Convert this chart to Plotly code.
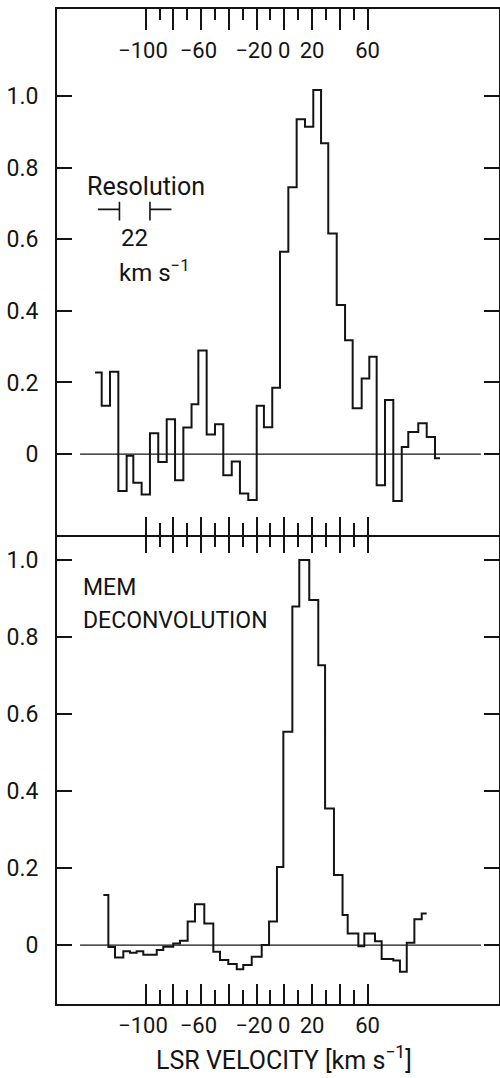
import plotly.graph_objects as go

# ---------------- data ----------------
# Upper panel: observed spectrum, channel edges [km/s] and channel values
top_edges = [-136.5, -131.7, -125.7, -119.7, -113.7, -108.9, -102.9, -96.9, -90.9,
             -84.8, -78.8, -72.8, -66.9, -62.0, -56.0, -50.0, -44.0, -37.9, -32.0,
             -26.0, -19.9, -14.7, -8.7, -3.1, 2.9, 8.9, 14.9, 20.9, 26.5, 31.7, 37.8,
             43.8, 49.3, 55.8, 61.3, 66.6, 72.6, 78.6, 84.7, 89.4, 96.6, 102.7, 108.7,
             112.3]
top_values = [0.228, 0.135, 0.230, -0.103, -0.005, -0.080, -0.113, 0.058, -0.022,
              0.097, -0.073, 0.074, 0.139, 0.289, 0.055, 0.083, -0.059, -0.021,
              -0.110, -0.128, 0.135, 0.075, 0.185, 0.565, 0.745, 0.935, 0.914, 1.017,
              0.868, 0.616, 0.416, 0.318, 0.128, 0.211, 0.272, -0.087, 0.151, -0.131,
              0.020, 0.062, 0.086, 0.048, -0.012]

# Lower panel: MEM deconvolution
bottom_edges = [-130.5, -126.9, -122.1, -116.1, -111.3, -106.5, -101.7, -96.9, -92.0,
                -87.3, -80.1, -75.2, -69.7, -64.4, -57.7, -51.2, -46.4, -40.4, -34.3,
                -29.6, -23.5, -16.3, -11.0, -5.3, -0.7, 5.8, 10.8, 18.0, 24.5, 29.4,
                35.8, 42.0, 45.7, 53.4, 57.7, 65.4, 70.2, 78.6, 83.4, 88.3, 93.8, 99.1,
                102.7]
bottom_values = [0.130, -0.005, -0.032, -0.016, -0.020, -0.016, -0.025, -0.025, -0.013,
                 -0.004, 0.004, 0.011, 0.061, 0.106, 0.056, -0.017, -0.039, -0.049,
                 -0.063, -0.052, -0.030, 0.000, 0.061, 0.203, 0.554, 0.879, 1.000,
                 0.896, 0.727, 0.355, 0.182, 0.078, 0.030, -0.003, 0.030, 0.010,
                 -0.036, -0.040, -0.069, 0.006, 0.067, 0.082]

major_ticks = [-100, -80, -60, -40, -20, 0, 20, 40, 60]
# negative labels carry a trailing no-break space so the digits sit nearer the tick
major_text = ["\u2212100\u00a0", " ", "\u221260\u00a0", " ",
              "\u221220\u00a0", "0", "20", " ", "60"]
minor_ticks = [-90, -70, -50, -30, -10, 10, 30, 50]
y_ticks = [0, 0.2, 0.4, 0.6, 0.8, 1.0]
y_text = ["0", "0.2", "0.4", "0.6", "0.8", "1.0"]

resolution_left = -118.9   # km/s
resolution_width = 22      # km/s
baseline_span = [-147.3, 141.8]

# ---------------- styling ----------------
INK = "#141414"
FONT = "Roboto, Liberation Sans, sans-serif"
W, H = 500, 1078
XR = [-163.93, 154.47]
TOP_YR = [-0.226, 1.243]
BOT_YR = [-0.153, 1.065]
XTICK_FS = 22
YTICK_FS = 23


def py(px):
    return 1 - px / H


def px_x(px):
    return px / W


fig = go.Figure()

fig.add_trace(go.Scatter(x=top_edges, y=top_values + [top_values[-1]],
                         mode="lines", line=dict(shape="hv", color=INK, width=2),
                         xaxis="x", yaxis="y", showlegend=False, hoverinfo="skip"))
fig.add_trace(go.Scatter(x=bottom_edges, y=bottom_values + [bottom_values[-1]],
                         mode="lines", line=dict(shape="hv", color=INK, width=2),
                         xaxis="x2", yaxis="y2", showlegend=False, hoverinfo="skip"))

xdom = [57 / W, 498.5 / W]
top_dom = [py(535), py(9)]
bot_dom = [py(1004), py(535)]

common_x = dict(range=XR, domain=xdom, showgrid=False, zeroline=False,
                showline=True, linecolor=INK, linewidth=2, ticks="inside",
                tickcolor=INK, tickwidth=1.6, tickmode="array", tickangle=0,
                tickvals=major_ticks, ticktext=major_text, automargin=False,
                tickfont=dict(family=FONT, size=XTICK_FS, color=INK))

fig.update_layout(
    width=W, height=H, template="none",
    margin=dict(l=0, r=0, t=0, b=0),
    paper_bgcolor="white", plot_bgcolor="white",
    font=dict(family=FONT, color=INK),
    xaxis=dict(common_x, anchor="y", side="bottom", ticklen=18,
               showticklabels=False,
               minor=dict(tickvals=minor_ticks, ticks="inside", ticklen=12,
                          tickcolor=INK, tickwidth=1.6)),
    xaxis3=dict(common_x, anchor="y", overlaying="x", side="top", ticklen=21,
                showticklabels=True, ticklabelposition="inside",
                ticklabelstandoff=14,
                minor=dict(tickvals=minor_ticks, ticks="inside", ticklen=11,
                           tickcolor=INK, tickwidth=1.6)),
    xaxis2=dict(common_x, anchor="y2", side="bottom", ticklen=20,
                showticklabels=True, ticklabelstandoff=1,
                minor=dict(tickvals=minor_ticks, ticks="inside", ticklen=14,
                           tickcolor=INK, tickwidth=1.6)),
    xaxis4=dict(common_x, anchor="y2", overlaying="x2", side="top", ticklen=18,
                showticklabels=False, showline=False,
                minor=dict(tickvals=minor_ticks, ticks="inside", ticklen=12,
                           tickcolor=INK, tickwidth=1.6)),
    yaxis=dict(range=TOP_YR, domain=top_dom, anchor="x", showgrid=False,
               zeroline=False, showline=True, mirror="ticks", linecolor=INK,
               linewidth=2, ticks="inside", ticklen=15, tickcolor=INK,
               tickwidth=1.6, tickmode="array", tickvals=y_ticks, ticktext=y_text,
               ticklabelstandoff=12, automargin=False,
               tickfont=dict(family=FONT, size=YTICK_FS, color=INK)),
    yaxis2=dict(range=BOT_YR, domain=bot_dom, anchor="x2", showgrid=False,
                zeroline=False, showline=True, mirror="ticks", linecolor=INK,
                linewidth=2, ticks="inside", ticklen=15, tickcolor=INK,
                tickwidth=1.6, tickmode="array", tickvals=y_ticks, ticktext=y_text,
                ticklabelstandoff=12, automargin=False,
                tickfont=dict(family=FONT, size=YTICK_FS, color=INK)),
)

# dummy traces so overlaying axes are drawn
fig.add_trace(go.Scatter(x=[None], y=[None], xaxis="x3", yaxis="y", showlegend=False))
fig.add_trace(go.Scatter(x=[None], y=[None], xaxis="x4", yaxis="y2", showlegend=False))

# zero baselines
for xr, yr in (("x", "y"), ("x2", "y2")):
    fig.add_shape(type="line", xref=xr, yref=yr, x0=baseline_span[0], x1=baseline_span[1],
                  y0=0, y1=0, line=dict(color=INK, width=1.4))

# resolution bar
ry = 0.6835
rl, rr = resolution_left, resolution_left + resolution_width
arm = 15.5
for seg in ((rl - arm, ry, rl, ry), (rl, 0.705, rl, 0.652),
            (rr, 0.705, rr, 0.652), (rr, ry, rr + arm, ry)):
    fig.add_shape(type="line", xref="x", yref="y", x0=seg[0], y0=seg[1],
                  x1=seg[2], y1=seg[3], line=dict(color=INK, width=1.6))


def note(text, x, y, size=24, xanchor="left"):
    fig.add_annotation(text=text, xref="paper", yref="paper", x=x, y=y,
                       xanchor=xanchor, yanchor="middle", showarrow=False,
                       font=dict(family=FONT, size=size, color=INK))


note("Resolution", px_x(85), py(186), size=25)
note("22", px_x(134), py(238), size=24, xanchor="center")
note("km s<sup>\u22121</sup>", px_x(117), py(271), size=24)
note("MEM", px_x(81), py(587), size=23)
note("DECONVOLUTION", px_x(81), py(620), size=23)
note("LSR VELOCITY [km s<sup>\u22121</sup>]", px_x(284), py(1058), size=25,
     xanchor="center")

fig.write_html("out.html")
